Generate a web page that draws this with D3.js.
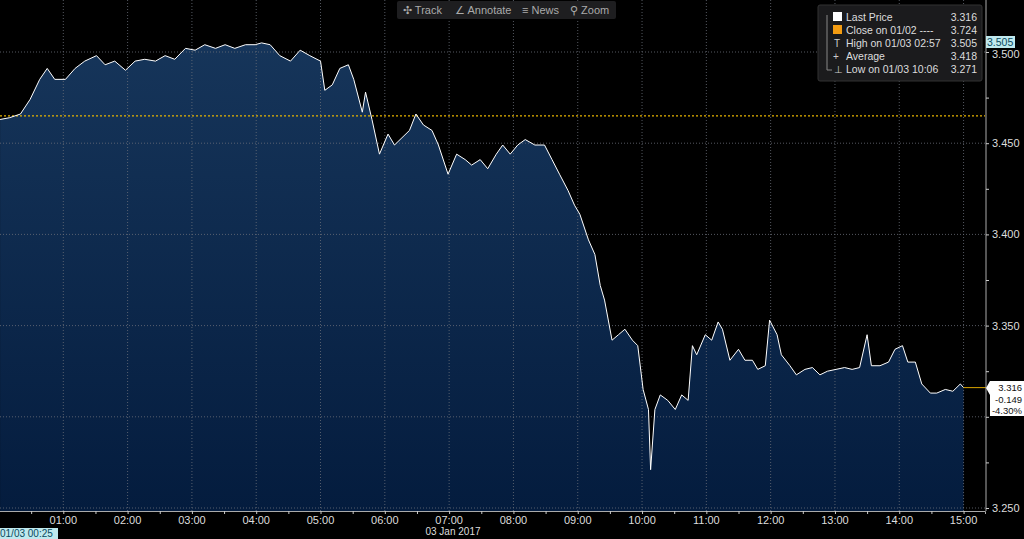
<!DOCTYPE html>
<html><head><meta charset="utf-8">
<script src="https://cdn.jsdelivr.net/npm/d3@7"></script>
<style>body{margin:0;background:#000;overflow:hidden}text{font-family:"Liberation Sans",Arial,sans-serif}</style>
</head><body><div id="chart"></div>
<script>
// minutes after 00:00 on 03 Jan 2017
const times = [1,10,20,29,38,45,52,62,71,80,91,99,108,118,127,136,146,155,164,174,183,192,202,211,220,230,239,245,253,262,272,281,290,300,304,311,318,326,331,339,342,348,355,363,369,376,383,389,396,404,410,419,427,435,441,449,456,464,470,477,484,491,500,509,516,523,531,537,542,550,556,561,565,572,578,584,591,596,601,606,608,612,617,624,631,637,643,647,651,659,665,671,675,682,690,696,703,708,715,719,726,730,738,744,752,759,766,773,781,789,796,803,810,814,822,830,836,843,848,855,861,869,875,883,890,897,900];
const prices = [3.463,3.464,3.466,3.474,3.485,3.491,3.485,3.485,3.491,3.495,3.498,3.493,3.495,3.490,3.495,3.496,3.495,3.498,3.496,3.502,3.501,3.504,3.502,3.504,3.502,3.504,3.504,3.505,3.504,3.498,3.495,3.501,3.498,3.495,3.479,3.482,3.491,3.493,3.485,3.467,3.478,3.463,3.444,3.455,3.449,3.453,3.457,3.466,3.460,3.457,3.449,3.433,3.444,3.441,3.438,3.441,3.436,3.444,3.449,3.444,3.449,3.452,3.449,3.449,3.441,3.433,3.424,3.416,3.411,3.397,3.389,3.372,3.364,3.342,3.345,3.348,3.342,3.339,3.315,3.304,3.271,3.304,3.312,3.309,3.304,3.312,3.309,3.339,3.334,3.345,3.342,3.352,3.348,3.331,3.337,3.331,3.331,3.326,3.328,3.353,3.345,3.334,3.328,3.323,3.326,3.327,3.323,3.325,3.326,3.327,3.326,3.327,3.345,3.328,3.328,3.330,3.337,3.339,3.330,3.330,3.318,3.313,3.313,3.315,3.314,3.318,3.316];
const hourTicks = [1,2,3,4,5,6,7,8,9,10,11,12,13,14,15];
const priceTicks = [3.25,3.30,3.35,3.40,3.45,3.50];
const priceLabels = [3.25,3.35,3.40,3.45,3.50]; // 3.300 is hidden behind the last-price box
const prevClose = 3.465;
const legendRows = [["Last Price","3.316"],["Close on 01/02 ----","3.724"],["High on 01/03 02:57","3.505"],["Average","3.418"],["Low on 01/03 10:06","3.271"]];
const lastLabels = ["3.316","-0.149","-4.30%"];

const W = 1024, H = 539;
const svg = d3.select("#chart").append("svg").attr("width", W).attr("height", H);
const x = d3.scaleLinear().domain([0, 920]).range([-1, 985]);
const y = d3.scaleLinear().domain([3.25, 3.5]).range([508, 52]);
const bottom = 511;
const data = times.map((t, i) => ({t, v: prices[i]}));

const grad = svg.append("defs").append("linearGradient").attr("id", "g").attr("x1", 0).attr("x2", 0).attr("y1", 0).attr("y2", 1);
grad.append("stop").attr("offset", "0%").attr("stop-color", "#16355a");
grad.append("stop").attr("offset", "100%").attr("stop-color", "#041c3e");

svg.append("path").datum(data).attr("fill", "url(#g)")
  .attr("d", d3.area().x(d => x(d.t)).y0(bottom).y1(d => y(d.v)));

// grid
svg.selectAll(".vg").data(hourTicks).enter().append("line")
  .attr("x1", d => x(d * 60)).attr("x2", d => x(d * 60)).attr("y1", 0).attr("y2", bottom)
  .attr("stroke", "#6a6f78").attr("stroke-width", 0.8).attr("stroke-dasharray", "1,2");
svg.selectAll(".hg").data(priceTicks).enter().append("line")
  .attr("x1", 0).attr("x2", 985).attr("y1", d => y(d)).attr("y2", d => y(d))
  .attr("stroke", "#6a6f78").attr("stroke-width", 0.8).attr("stroke-dasharray", "1,2");

svg.append("line").attr("x1", 0).attr("x2", 985).attr("y1", y(prevClose)).attr("y2", y(prevClose))
  .attr("stroke", "#e8b400").attr("stroke-width", 1.2).attr("stroke-dasharray", "2,2");

svg.append("path").datum(data).attr("fill", "none").attr("stroke", "#fff").attr("stroke-width", 1)
  .attr("d", d3.line().x(d => x(d.t)).y(d => y(d.v)));

const last = data[data.length - 1];
svg.append("line").attr("x1", x(last.t)).attr("x2", 986).attr("y1", y(last.v)).attr("y2", y(last.v))
  .attr("stroke", "#d9a400").attr("stroke-width", 1);

// axes
const ax = svg.append("g").attr("transform", `translate(0,${bottom})`)
  .call(d3.axisBottom(x).tickValues(d3.range(30, 920, 30)).tickSize(3).tickFormat(""));
ax.selectAll("line").attr("stroke", "#ccc");
ax.select(".domain").attr("stroke", "#aaa");
svg.selectAll(".hl").data(hourTicks).enter().append("text")
  .attr("x", d => x(d * 60)).attr("y", 524).attr("text-anchor", "middle")
  .attr("fill", "#ddd").attr("font-size", 11).text(d => d3.format("02d")(d) + ":00");
svg.append("text").attr("x", 453).attr("y", 535).attr("text-anchor", "middle")
  .attr("fill", "#ddd").attr("font-size", 10).text("03 Jan 2017");

const ay = svg.append("g").attr("transform", "translate(986,0)")
  .call(d3.axisRight(y).tickValues(d3.range(3.25, 3.5001, 0.025)).tickSize(3).tickFormat(""));
ay.selectAll("line").attr("stroke", "#ccc");
ay.select(".domain").attr("stroke", "#aaa").attr("d", "M0,0V" + bottom);
svg.selectAll(".yl").data(priceLabels).enter().append("text")
  .attr("x", 992).attr("y", d => y(d) + (d === 3.5 ? 6 : 4)).attr("fill", "#ddd").attr("font-size", 11)
  .text(d => d3.format(".3f")(d));

// high label
svg.append("rect").attr("x", 986).attr("y", 36).attr("width", 29).attr("height", 12).attr("fill", "#bfe9ee");
svg.append("text").attr("x", 987).attr("y", 46).attr("fill", "#0a4a60").attr("font-size", 10.5).text("3.505");

// last price box
svg.append("path").attr("d", "M986,388L990,381H1024V416H990V395Z").attr("fill", "#fff");
svg.selectAll(".ll").data(lastLabels).enter().append("text")
  .attr("x", 1022).attr("y", (d, i) => 391 + i * 11.5).attr("text-anchor", "end")
  .attr("fill", "#111").attr("font-size", 9.5).text(d => d);

// legend
const lg = svg.append("g");
lg.append("rect").attr("x", 818).attr("y", 5).attr("width", 164).attr("height", 76)
  .attr("fill", "#1b1b1d").attr("stroke", "#333").attr("rx", 2);
lg.append("path").attr("d", "M827,15V70H832").attr("stroke", "#888").attr("fill", "none");
legendRows.forEach((r, i) => {
  const yy = 21 + i * 13;
  if (i === 0) lg.append("rect").attr("x", 833).attr("y", yy - 9).attr("width", 9).attr("height", 9).attr("fill", "#fff");
  if (i === 1) lg.append("rect").attr("x", 833).attr("y", yy - 9).attr("width", 9).attr("height", 9).attr("fill", "#f39c12");
  if (i === 2) lg.append("text").attr("x", 834).attr("y", yy).attr("fill", "#ccc").attr("font-size", 10).text("T");
  if (i === 3) lg.append("text").attr("x", 833).attr("y", yy).attr("fill", "#ccc").attr("font-size", 10).text("+");
  if (i === 4) lg.append("text").attr("x", 834).attr("y", yy).attr("fill", "#ccc").attr("font-size", 10).text("⊥");
  lg.append("text").attr("x", 846).attr("y", yy).attr("fill", "#ddd").attr("font-size", 10.5).text(r[0]);
  lg.append("text").attr("x", 977).attr("y", yy).attr("text-anchor", "end").attr("fill", "#ddd").attr("font-size", 10.5).text(r[1]);
});

// toolbar
const tb = svg.append("g");
tb.append("rect").attr("x", 397).attr("y", 1).attr("width", 219).attr("height", 18).attr("fill", "#1e1e20").attr("rx", 2);
[["✣ Track", 400], ["∠ Annotate", 452], ["≡ News", 519], ["⚲ Zoom", 567]].forEach(([t, xx]) => {
  tb.append("text").attr("x", xx + 3).attr("y", 14).attr("fill", "#aaa").attr("font-size", 11).text(t);
});

// crosshair date label
svg.append("rect").attr("x", 0).attr("y", 528).attr("width", 58).attr("height", 11).attr("fill", "#bfe9ee");
svg.append("text").attr("x", 0).attr("y", 537).attr("fill", "#0a4a60").attr("font-size", 10).text("01/03 00:25");
</script></body></html>
